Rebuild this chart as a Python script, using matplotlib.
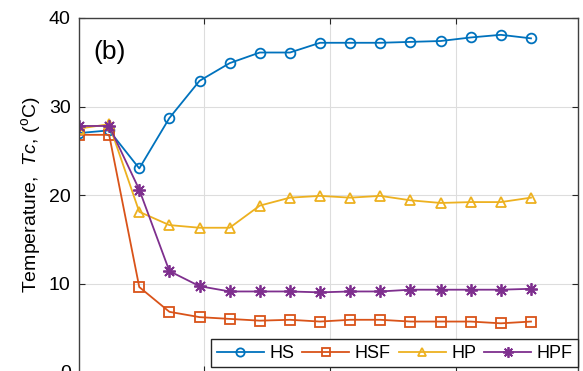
import numpy as np
import matplotlib
matplotlib.use('Agg')
import matplotlib.pyplot as plt

plt.rcParams['font.family'] = ['Liberation Sans', 'DejaVu Sans']
plt.rcParams['mathtext.fontset'] = 'custom'
plt.rcParams['mathtext.it'] = 'Liberation Sans:italic'
plt.rcParams['mathtext.rm'] = 'Liberation Sans'

# sample index along the (cropped) x axis
samples = np.arange(16)

hs = [27.0, 27.3, 23.0, 28.7, 32.9, 34.9, 36.1, 36.1, 37.2, 37.2, 37.2, 37.3, 37.4, 37.8, 38.1, 37.7]
hsf = [26.8, 26.8, 9.6, 6.8, 6.2, 6.0, 5.8, 5.9, 5.7, 5.9, 5.9, 5.7, 5.7, 5.7, 5.5, 5.7]
hp = [27.5, 28.0, 18.1, 16.6, 16.3, 16.3, 18.8, 19.7, 19.9, 19.7, 19.9, 19.4, 19.1, 19.2, 19.2, 19.7]
hpf = [27.8, 27.8, 20.6, 11.4, 9.7, 9.1, 9.1, 9.1, 9.0, 9.1, 9.1, 9.3, 9.3, 9.3, 9.3, 9.4]

# matlab style asterisk = plus + cross
asterisk = (8, 2, 0)

series = [
    ('HS', hs, '#0072BD', 'o', 7),
    ('HSF', hsf, '#D95319', 's', 7),
    ('HP', hp, '#EDB120', '^', 7),
    ('HPF', hpf, '#7E2F8E', asterisk, 9),
]

fig = plt.figure(figsize=(5.83, 3.71), dpi=100)
ax = fig.add_axes([79 / 583, -1 / 371, 499 / 583, 354 / 371])

for name, vals, col, mk, ms in series:
    ax.plot(samples, vals, color=col, marker=mk, markersize=ms, markerfacecolor='none',
            markeredgecolor=col, markeredgewidth=1.3, linewidth=1.3, label=name)

ax.set_xlim(0, 16.56)
ax.set_ylim(0, 40)
ax.set_yticks([0, 10, 20, 30, 40])
ax.set_xticks([4.15, 8.33, 12.51])
ax.set_xticklabels([])
ax.grid(True, color='#dddddd', linewidth=0.8)
ax.set_axisbelow(True)
ax.tick_params(direction='in', top=True, right=True, labelsize=14, length=4,
               color='#262626', pad=6)
for sp in ax.spines.values():
    sp.set_color('#404040')
    sp.set_linewidth(1.0)

ax.set_ylabel(r'Temperature,  $\mathit{Tc}$, ($^{\rm o}$C)', fontsize=14, labelpad=4)
ax.text(0.028, 0.905, '(b)', transform=ax.transAxes, fontsize=19, ha='left', va='center')

leg = ax.legend(loc='upper right', bbox_to_anchor=(1.0, 0.092), ncol=4, fontsize=13,
                frameon=True, fancybox=False, edgecolor='#262626', framealpha=1,
                handlelength=2.6, handletextpad=0.3, columnspacing=0.45,
                borderpad=0.3, borderaxespad=0, markerscale=0.85)
leg.get_frame().set_linewidth(1.0)

fig.savefig('out.png', dpi=100)
